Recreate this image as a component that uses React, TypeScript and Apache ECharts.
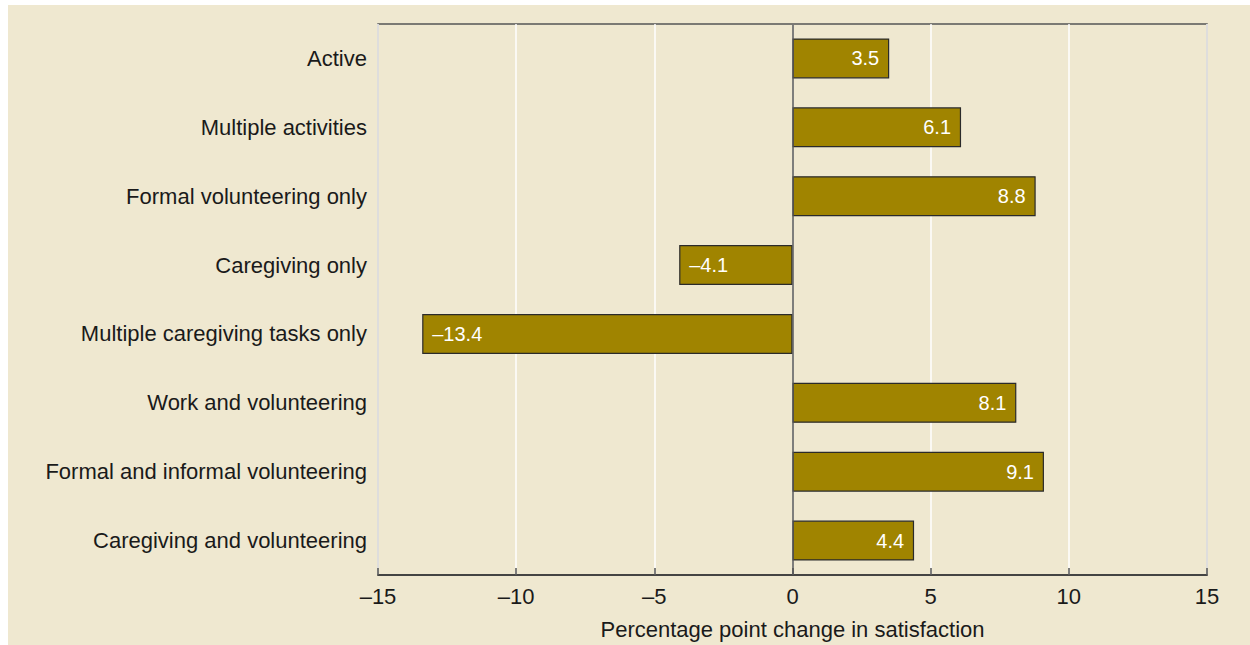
import React, { useEffect, useRef } from "react";
import * as echarts from "echarts";

const categories = [
  "Active",
  "Multiple activities",
  "Formal volunteering only",
  "Caregiving only",
  "Multiple caregiving tasks only",
  "Work and volunteering",
  "Formal and informal volunteering",
  "Caregiving and volunteering",
];
const values = [3.5, 6.1, 8.8, -4.1, -13.4, 8.1, 9.1, 4.4];
const xTicks = { min: -15, max: 15, interval: 5 };
const xAxisName = "Percentage point change in satisfaction";

const FONT = "'Liberation Sans', Arial, Helvetica, sans-serif";
const dash = (v: number | string) => String(v).replace("-", "\u2013");

export default function App() {
  const ref = useRef<HTMLDivElement>(null);
  useEffect(() => {
    if (!ref.current) return;
    const chart = echarts.init(ref.current, null, { renderer: "svg" });
    chart.setOption({
      animation: false,
      backgroundColor: "#efe8d0",
      textStyle: { fontFamily: FONT },
      grid: {
        left: 370,
        right: 43,
        top: 19,
        bottom: 70,
        show: true,
        borderColor: "#555",
        borderWidth: 1.5,
        backgroundColor: "transparent",
      },
      xAxis: {
        type: "value",
        min: xTicks.min,
        max: xTicks.max,
        interval: xTicks.interval,
        name: xAxisName,
        nameLocation: "middle",
        nameGap: 43,
        nameTextStyle: { fontSize: 22, color: "#1a1a1a", fontFamily: FONT },
        axisLine: { show: true, lineStyle: { color: "#333", width: 1.5 } },
        axisTick: { show: true, inside: true, length: 7, lineStyle: { color: "#555", width: 1.5 } },
        axisLabel: {
          fontSize: 22,
          color: "#1a1a1a",
          margin: 10,
          fontFamily: FONT,
          formatter: (v: number) => dash(v),
        },
        splitLine: { show: true, lineStyle: { color: "#ffffff", width: 1.5 } },
      },
      yAxis: {
        type: "category",
        data: categories,
        inverse: true,
        axisLine: { show: false },
        axisTick: { show: false },
        axisLabel: { fontSize: 22, color: "#1a1a1a", margin: 11, fontFamily: FONT },
        splitLine: { show: false },
      },
      series: [
        {
          type: "bar",
          data: values.map((v) => ({
            value: v,
            label: {
              show: true,
              position: v >= 0 ? "insideRight" : "insideLeft",
              distance: 10,
              color: "#ffffff",
              fontSize: 20,
              fontFamily: FONT,
              formatter: () => dash(v),
            },
          })),
          barWidth: 40,
          itemStyle: { color: "#a08400", borderColor: "#2a2a2a", borderWidth: 1.2 },
          markLine: {
            silent: true,
            symbol: "none",
            label: { show: false },
            lineStyle: { color: "#555", width: 1.5, type: "solid" },
            data: [{ xAxis: 0 }],
          },
        },
      ],
    });
    return () => chart.dispose();
  }, []);
  return (
    <div
      ref={ref}
      style={{ width: 1242, height: 640, position: "absolute", left: 8, top: 5 }}
    />
  );
}
